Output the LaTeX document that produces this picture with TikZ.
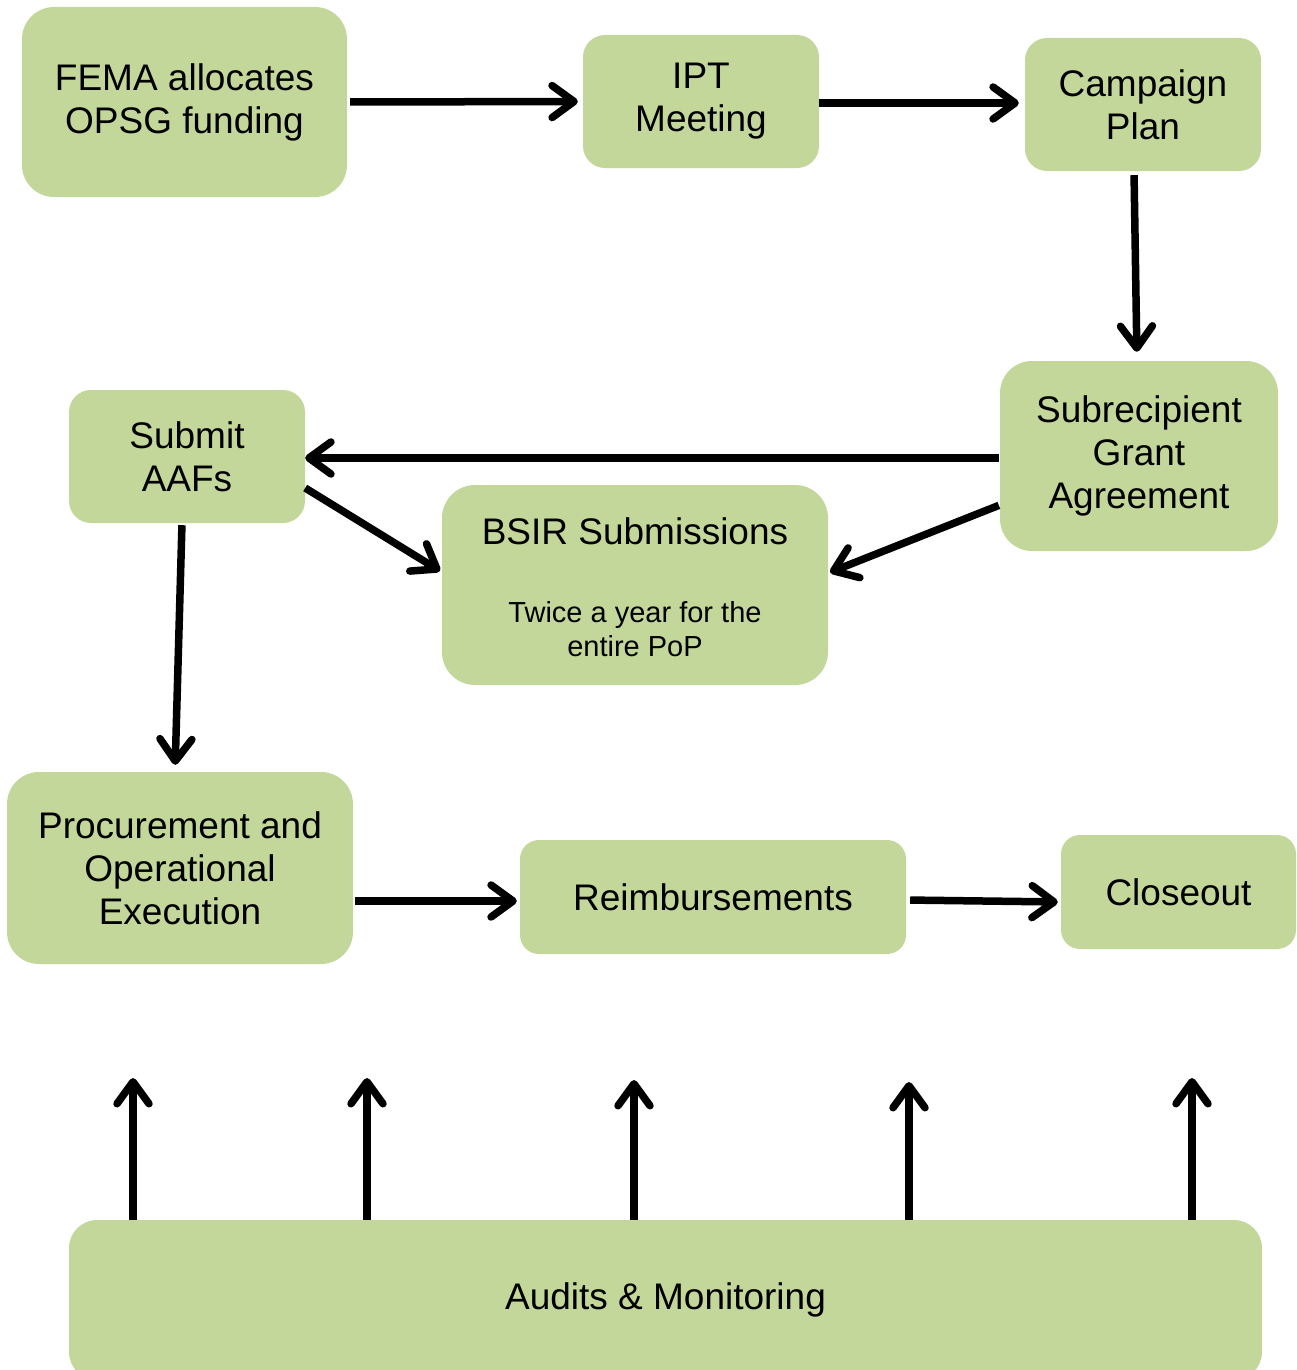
\documentclass[tikz,border=0pt]{standalone}
\usepackage{fontspec}
\setmainfont{Liberation Sans}
\usetikzlibrary{arrows.meta}
\definecolor{boxgreen}{HTML}{C4D79B}
\begin{document}
\begin{tikzpicture}[x=1pt,y=-1pt,
  box/.style={fill=boxgreen, draw=none, align=center, inner sep=0pt,
    font=\fontsize{37}{43}\selectfont},
  txt/.style={align=center, inner sep=0pt},
  flow/.style={line width=7.5pt, -{Straight Barb[length=22pt,width=32pt,round]}}]
\clip (0,0) rectangle (1296,1370);
% nodes
\node[box, minimum width=325pt, minimum height=190pt, rounded corners=32pt] (fema) at (184.5,102) {FEMA allocates\\OPSG funding};
\node[box, minimum width=236pt, minimum height=133pt, rounded corners=22pt] (ipt) at (701,101.5) {IPT\\Meeting};
\node[box, minimum width=236pt, minimum height=133pt, rounded corners=22pt] (camp) at (1143,104.5) {Campaign\\Plan};
\node[box, minimum width=278pt, minimum height=190pt, rounded corners=32pt] (sub) at (1139,456) {Subrecipient\\Grant\\Agreement};
\node[box, minimum width=236pt, minimum height=133pt, rounded corners=22pt] (aaf) at (187,456.5) {Submit\\AAFs};
\node[box, minimum width=386pt, minimum height=200pt, rounded corners=33pt] (bsir) at (635,585) {};
\node[txt, font=\fontsize{37}{43}\selectfont] (bsirt) at (635,531) {BSIR Submissions};
\node[txt, font=\fontsize{29}{34}\selectfont] (bsirs) at (635,629) {Twice a year for the\\entire PoP};
\node[box, minimum width=346pt, minimum height=192pt, rounded corners=32pt] (proc) at (180,868) {Procurement and\\Operational\\Execution};
\node[box, minimum width=386pt, minimum height=114pt, rounded corners=19pt] (reim) at (713,897) {Reimbursements};
\node[box, minimum width=235pt, minimum height=114pt, rounded corners=19pt] (close) at (1178.5,892) {Closeout};
\node[box, minimum width=1193pt, minimum height=160pt, rounded corners=28pt] (aud) at (665.5,1300) {Audits \& Monitoring};
% free ends of the audit arrows
\coordinate (u1) at (133,1078);
\coordinate (u2) at (367,1078);
\coordinate (u3) at (634,1080);
\coordinate (u4) at (909,1082);
\coordinate (u5) at (1192,1078);
% connectors
\draw[flow, shorten <=3pt, shorten >=5pt] (fema.east) -- (ipt.west);
\draw[flow, shorten >=6pt] ([yshift=-1.5pt]ipt.east) -- ([yshift=1.5pt]camp.west);
\draw[flow, shorten <=4pt, shorten >=9pt] ([xshift=-9pt]camp.south) -- ([xshift=-2pt]sub.north);
\draw[flow, shorten <=1pt] ([yshift=-2pt]sub.west) -- ([yshift=-1.5pt]aaf.east);
\draw[flow, shorten <=1pt, shorten >=2pt] ([yshift=-49pt]sub.west) -- ([yshift=12pt]bsir.east);
\draw[flow, shorten >=2pt] ([yshift=-31.5pt]aaf.east) -- ([yshift=13pt]bsir.west);
\draw[flow, shorten <=2pt, shorten >=7pt] ([xshift=-5pt]aaf.south) -- ([xshift=-5pt]proc.north);
\draw[flow, shorten <=2pt, shorten >=3pt] ([yshift=-33pt]proc.east) -- ([yshift=-4pt]reim.west);
\draw[flow, shorten <=4pt, shorten >=3pt] ([yshift=-3pt]reim.east) -- ([yshift=-10pt]close.west);
\foreach \u in {u1,u2,u3,u4,u5}
  \draw[flow] (\u |- aud.north) -- (\u);
\end{tikzpicture}
\end{document}
